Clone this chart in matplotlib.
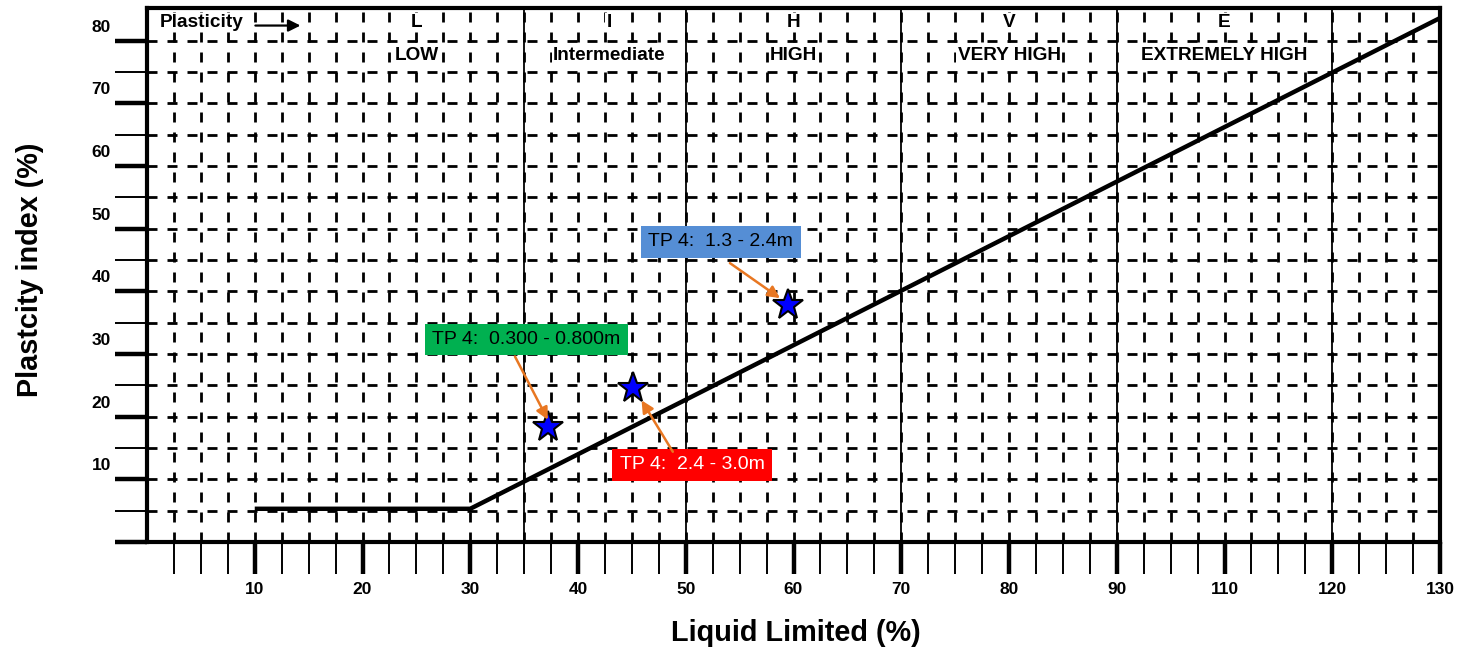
import matplotlib.pyplot as plt
import matplotlib.transforms as mtransforms
import numpy as np

plt.rcParams['font.family'] = ['Liberation Sans', 'DejaVu Sans']

# A-line
aline_ll = [10, 30, 120]
aline_pi = [5.3, 5.3, 83.6]

# test results
sample_ll = [37.2, 45.1, 59.5]
sample_pi = [18.4, 24.5, 37.8]
sample_labels = ['TP 4:  0.300 - 0.800m', 'TP 4:  2.4 - 3.0m', 'TP 4:  1.3 - 2.4m']
label_colors = ['#00B050', '#FF0000', '#558ED5']
label_text_colors = ['black', 'white', 'black']
label_xy = [(35.2, 32.3), (50.6, 12.3), (53.25, 47.9)]
arrow_from = [(34.15, 29.6), (48.8, 14.4), (54.1, 44.5)]
arrow_to = [(37.2, 19.5), (45.9, 22.6), (58.75, 38.9)]

# plasticity zones
zone_bounds = [35, 50, 70, 90, 110]
zone_letters = ['L', 'I', 'H', 'V', 'E']
zone_names = ['LOW', 'Intermediate', 'HIGH', 'VERY HIGH', 'EXTREMELY HIGH']
zone_centers = [25, 42.9, 60, 80, 100]

# axis ticks (x axis skips 100 in the original)
x_ticks = [10, 20, 30, 40, 50, 60, 70, 80, 90, 100, 110, 120]
x_ticklabels = ['10', '20', '30', '40', '50', '60', '70', '80', '90', '110', '120', '130']
y_ticks = [0, 10, 20, 30, 40, 50, 60, 70, 80]
y_ticklabels = ['', '10', '20', '30', '40', '50', '60', '70', '80']

fig = plt.figure(figsize=(14.63, 6.51), dpi=100)
ax = fig.add_axes([147/1463, 1 - 542/651, 1293/1463, 534/651])
ax.set_xlim(0, 120)
ax.set_ylim(0, 85.2)

# dashed grid
for gx in np.arange(2.5, 120, 2.5):
    ax.axvline(gx, color='black', lw=2.0, dashes=(3.6, 3.6), zorder=1)
for gy in np.arange(5, 85, 5):
    ax.axhline(gy, color='black', lw=2.0, dashes=(3.6, 3.6), zorder=1)

# zone boundaries
for b in zone_bounds:
    ax.axvline(b, color='black', lw=1.3, zorder=2)

top_box = dict(facecolor='white', edgecolor='none', pad=1)
for c, letter, name in zip(zone_centers, zone_letters, zone_names):
    ax.text(c, 82.9, letter, ha='center', va='center', fontsize=13.7, fontweight='bold',
            zorder=6, bbox=top_box)
    ax.text(c, 77.7, name, ha='center', va='center', fontsize=13.7, fontweight='bold',
            zorder=6, bbox=top_box)

ax.text(1.2, 82.9, 'Plasticity', ha='left', va='center', fontsize=13.7, fontweight='bold',
        zorder=6, bbox=top_box)
ax.annotate('', xy=(14.5, 82.4), xytext=(9.8, 82.4),
            arrowprops=dict(arrowstyle='-|>', color='black', lw=1.6, mutation_scale=18), zorder=6)

# A-line
ax.plot(aline_ll, aline_pi, color='black', lw=3.2, zorder=4, solid_capstyle='butt')

# samples
ax.plot(sample_ll, sample_pi, linestyle='none', marker='*', markersize=23,
        markerfacecolor='#0000FF', markeredgecolor='black', markeredgewidth=1.5, zorder=7)

for lab, fc, tc, pos, a0, a1 in zip(sample_labels, label_colors, label_text_colors,
                                    label_xy, arrow_from, arrow_to):
    ax.text(pos[0], pos[1], lab, ha='center', va='center', fontsize=14, color=tc, zorder=8,
            bbox=dict(boxstyle='square,pad=0.38', facecolor=fc, edgecolor='none'))
    ax.annotate('', xy=a1, xytext=a0,
                arrowprops=dict(arrowstyle='-|>', color='#E87722', lw=1.8, mutation_scale=18,
                                shrinkA=0, shrinkB=0), zorder=8)

# ticks
ax.set_xticks(x_ticks)
ax.set_xticklabels(x_ticklabels, fontsize=12.5, fontweight='bold')
ax.set_xticks(np.arange(2.5, 120, 2.5), minor=True)
ax.set_yticks(y_ticks)
ax.set_yticklabels(y_ticklabels, fontsize=12.5, fontweight='bold')
ax.set_yticks(np.arange(5, 85, 10), minor=True)
ax.tick_params(axis='both', which='major', direction='out', length=23, width=3.2, color='black')
ax.tick_params(axis='both', which='minor', direction='out', length=23, width=1.4, color='black')
ax.tick_params(axis='x', which='major', pad=6)
ax.tick_params(axis='y', which='major', pad=3)

# y tick labels sit above their ticks
offset = mtransforms.ScaledTranslation(0, 15/100, fig.dpi_scale_trans)
for lbl in ax.get_yticklabels():
    lbl.set_transform(lbl.get_transform() + offset)

for s in ax.spines.values():
    s.set_linewidth(3)
    s.set_zorder(9)

ax.set_xlabel('Liquid Limited (%)', fontsize=20.8, fontweight='bold', va='center')
ax.xaxis.set_label_coords(0.502, -0.170)
ax.set_ylabel('Plastcity index (%)', fontsize=20.8, fontweight='bold', va='center')
ax.yaxis.set_label_coords(-0.0905, 0.509)

plt.savefig('out.png', dpi=100)
